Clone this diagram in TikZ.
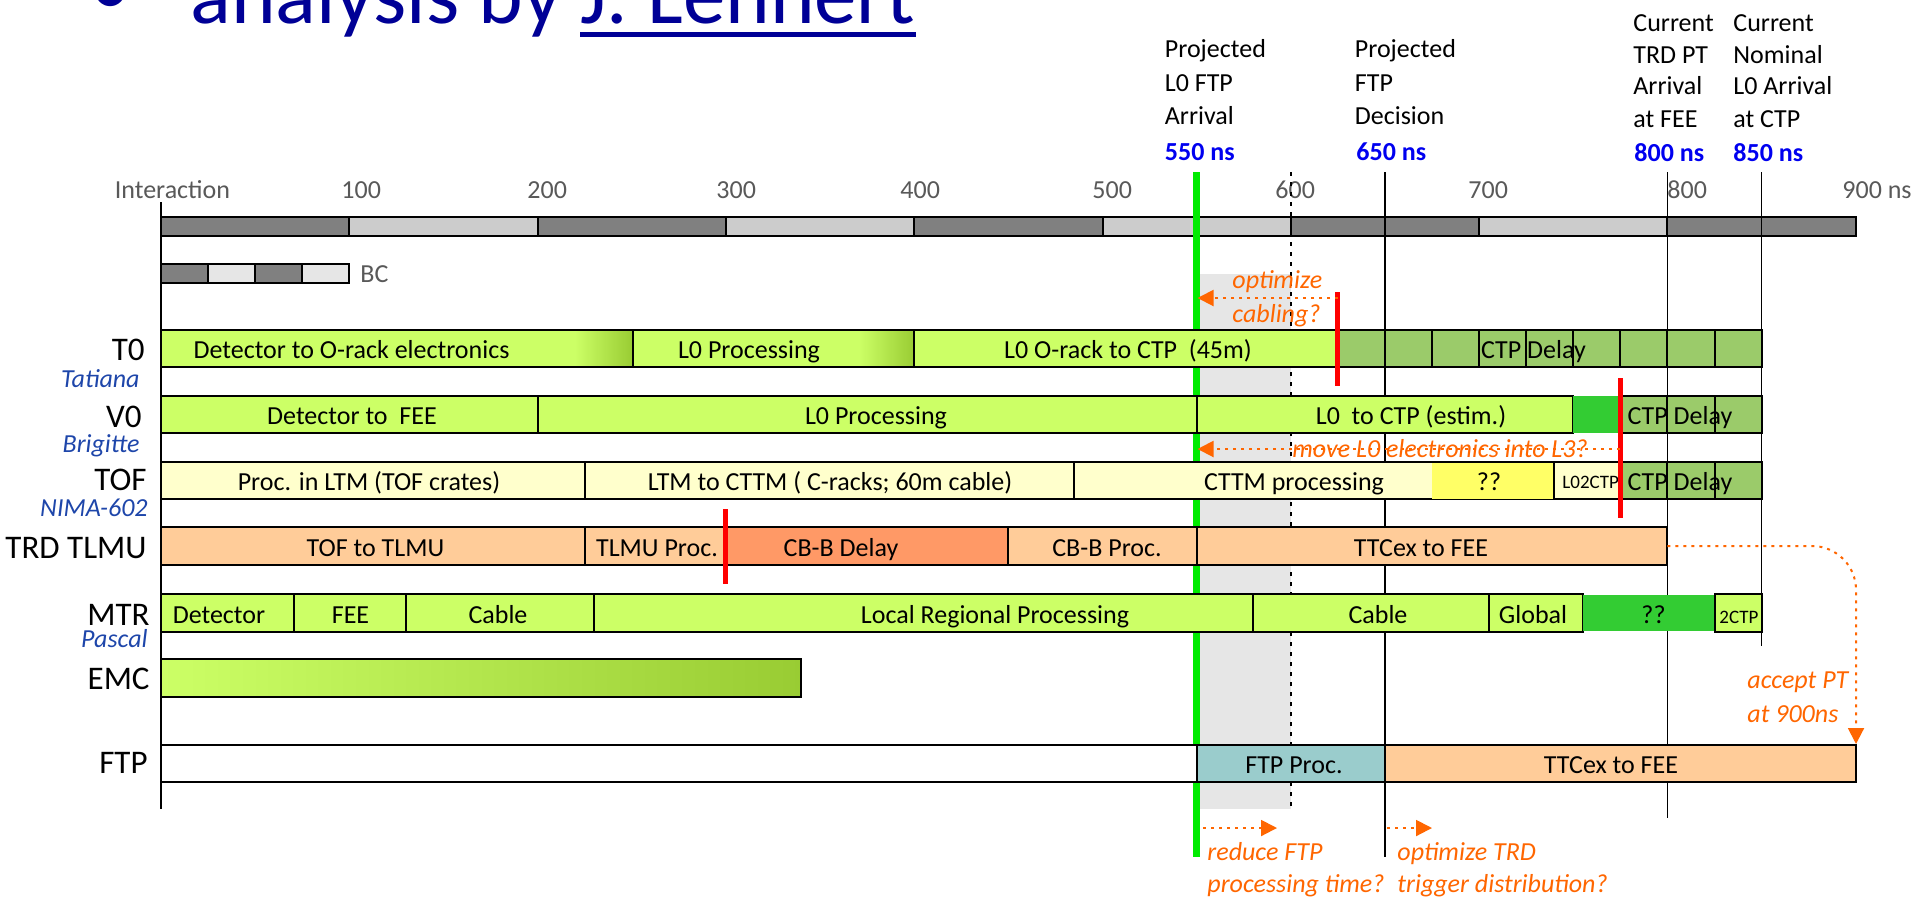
\documentclass[tikz,border=0pt]{standalone}
\usepackage{fontspec}
\setmainfont{Carlito}
\usetikzlibrary{arrows.meta}
\definecolor{lgreen}{HTML}{CCFF66}
\definecolor{dgreen}{HTML}{99CC33}
\definecolor{ctpgreen}{HTML}{9BCB6A}
\definecolor{bgreen}{HTML}{33CC33}
\definecolor{lyellow}{HTML}{FFFFCC}
\definecolor{qyellow}{HTML}{FFFF66}
\definecolor{peach}{HTML}{FFCC99}
\definecolor{dpeach}{HTML}{FF9966}
\definecolor{tealbox}{HTML}{9ACCCC}
\definecolor{gdark}{HTML}{808080}
\definecolor{glight}{HTML}{CCCCCC}
\definecolor{gbc}{HTML}{E6E6E6}
\definecolor{shadegray}{HTML}{E6E6E6}
\definecolor{axgray}{HTML}{595959}
\definecolor{nameblue}{RGB}{30,70,170}
\definecolor{nsblue}{RGB}{0,0,240}
\definecolor{titleblue}{RGB}{0,0,150}
\definecolor{noteorange}{RGB}{255,102,0}
\definecolor{vgreen}{RGB}{0,235,0}
\begin{document}
\begin{tikzpicture}[x=0.5pt,y=-0.5pt,
  seg/.style={draw=black, line width=1pt},
  segtxt/.style={font=\fontsize{13}{16}\selectfont, inner sep=0pt, anchor=base},
  tinytxt/.style={font=\fontsize{9.5}{11}\selectfont, inner sep=0pt, anchor=base west},
  rowlab/.style={font=\fontsize{16.5}{20}\selectfont, inner sep=0pt, anchor=base east},
  who/.style={font=\fontsize{13}{16}\selectfont\itshape, text=nameblue, inner sep=0pt, anchor=base east},
  axlab/.style={font=\fontsize{13}{16}\selectfont, text=axgray, inner sep=0pt, anchor=base west},
  hdr/.style={font=\fontsize{13}{16}\selectfont, inner sep=0pt, anchor=base west},
  hdrns/.style={hdr, font=\fontsize{13}{16}\selectfont\bfseries, text=nsblue},
  notetxt/.style={font=\fontsize{13}{16}\selectfont\itshape, text=noteorange, inner sep=0pt, anchor=base west},
  notearr/.style={draw=noteorange, line width=1pt, dash pattern=on 1.5pt off 2.5pt, -{Triangle[length=8pt,width=8pt]}},
  redmark/.style={draw=red, line width=2.5pt},
  vline/.style={draw=black, line width=0.8pt},
  titletxt/.style={font=\fontsize{42.5}{50}\selectfont, text=titleblue, inner sep=0pt, anchor=base west}]
\useasboundingbox (0,0) rectangle (1911,902);
\fill[white] (0,0) rectangle (1911,902);
\clip (0,0) rectangle (1911,902);

% title
\node[titletxt] (bul) at (89,15) {•};
\node[titletxt] (ttl) at (190,23) {analysis by};
\node[titletxt] (jl) at (580,23) {J. Lennert};
\draw[titleblue, line width=2.5pt] ([yshift=-5.75pt]jl.base west) -- ([yshift=-5.75pt]jl.base east);

% headers
\node[hdr] (h1a) at (1164.5,57) {Projected};
\node[hdr] (h1b) at (1164.5,91) {L0 FTP};
\node[hdr] (h1c) at (1164.5,124) {Arrival};
\node[hdrns] (h1d) at (1164.5,160) {550 ns};
\node[hdr] (h2a) at (1354.5,57) {Projected};
\node[hdr] (h2b) at (1354.5,91) {FTP};
\node[hdr] (h2c) at (1354.5,124) {Decision};
\node[hdrns] (h2d) at (1356,160) {650 ns};
\node[hdr] (h3a) at (1633,31) {Current};
\node[hdr] (h3b) at (1633,63) {TRD PT};
\node[hdr] (h3c) at (1633,94) {Arrival};
\node[hdr] (h3d) at (1633,127) {at FEE};
\node[hdrns] (h3e) at (1634,161) {800 ns};
\node[hdr] (h4a) at (1733,31) {Current};
\node[hdr] (h4b) at (1733,63) {Nominal};
\node[hdr] (h4c) at (1733,94) {L0 Arrival};
\node[hdr] (h4d) at (1733,127) {at CTP};
\node[hdrns] (h4e) at (1733,161) {850 ns};

% axis labels
\node[axlab] (ax0) at (114.5,198) {Interaction};
\node[axlab] (ax1) at (341,198) {100};
\node[axlab] (ax2) at (527,198) {200};
\node[axlab] (ax3) at (716,198) {300};
\node[axlab] (ax4) at (900,198) {400};
\node[axlab] (ax5) at (1092,198) {500};
\node[axlab] (ax6) at (1275,198) {600};
\node[axlab] (ax7) at (1468,198) {700};
\node[axlab] (ax8) at (1667,198) {800};
\node[axlab] (ax9) at (1842,198) {900 ns};

% top time bar
\foreach \a/\b/\c in {161/349.3/gdark, 349.3/537.6/glight, 537.6/725.9/gdark, 725.9/914.2/glight, 914.2/1102.5/gdark, 1102.5/1290.8/glight, 1290.8/1479.1/gdark, 1479.1/1667.4/glight, 1667.4/1855.7/gdark}
  \draw[seg, fill=\c] (\a,217) rectangle (\b,236);
% BC bar
\foreach \a/\b/\c in {161/208.1/gdark, 208.1/255.2/gbc, 255.2/302.2/gdark, 302.2/349.3/gbc}
  \draw[seg, fill=\c] (\a,264) rectangle (\b,283);
\node[axlab] (bc) at (360,282) {BC};

% shaded window and vertical markers
\fill[shadegray] (1196.7,274) rectangle (1290.8,809);
\draw[vline, line width=0.6pt] (161,202) -- (161,809);
\draw[vline] (1385,172) -- (1385,857);
\draw[vline] (1667.4,172) -- (1667.4,818);
\draw[vline] (1761.6,172) -- (1761.6,646);
\draw[black, line width=0.8pt, dash pattern=on 2pt off 3pt] (1290.8,172) -- (1290.8,809);
\draw[vgreen, line width=3.3pt] (1196.7,172) -- (1196.7,857);

% T0 row
\fill[lgreen] (161,330) rectangle (632.5,367);
\shade[left color=lgreen, right color=dgreen] (575,331) rectangle (632.5,366);
\draw[seg] (161,330) rectangle (632.5,367);
\fill[lgreen] (632.5,330) rectangle (914.2,367);
\shade[left color=lgreen, right color=dgreen] (859,331) rectangle (914.2,366);
\draw[seg] (632.5,330) rectangle (914.2,367);
\draw[seg, fill=lgreen] (914.2,330) rectangle (1337.9,367);
\foreach \a/\b in {1337.9/1385, 1385/1432, 1432/1479.1, 1479.1/1526.2, 1526.2/1573.3, 1573.3/1620.3, 1620.3/1667.4, 1667.4/1714.5, 1714.5/1761.6}
  \draw[seg, fill=ctpgreen] (\a,330) rectangle (\b,367);
\node[segtxt] (t0a) at (351.5,358.5) {Detector to O-rack electronics};
\node[segtxt] (t0b) at (749,358.5) {L0 Processing};
\node[segtxt] (t0c) at (1128,358.5) {L0 O-rack to CTP~~(45m)};
\node[segtxt] (t0d) at (1533.5,358.5) {CTP Delay};

% V0 row
\draw[seg, fill=lgreen] (161,396) rectangle (537.6,433);
\draw[seg, fill=lgreen] (537.6,396) rectangle (1196.7,433);
\draw[seg, fill=lgreen] (1196.7,396) rectangle (1573.3,433);
\fill[bgreen] (1573.3,396) rectangle (1620.3,433);
\foreach \a/\b in {1620.3/1667.4, 1667.4/1714.5, 1714.5/1761.6}
  \draw[seg, fill=ctpgreen] (\a,396) rectangle (\b,433);
\node[segtxt] (v0a) at (352,424.5) {Detector to~~FEE};
\node[segtxt] (v0b) at (876,424.5) {L0 Processing};
\node[segtxt] (v0c) at (1411,424.5) {L0~~to CTP (estim.)};
\node[segtxt] (v0d) at (1680,424.5) {CTP Delay};

% TOF row
\draw[seg, fill=lyellow] (161,462) rectangle (584.7,499);
\draw[seg, fill=lyellow] (584.7,462) rectangle (1074.3,499);
\draw[seg, fill=lyellow] (1074.3,462) rectangle (1554.4,499);
\fill[qyellow] (1432,463) rectangle (1554.4,498.5);
\draw[seg, fill=lyellow] (1554.4,462) rectangle (1620.3,499);
\node[segtxt] (tfa) at (369,490.5) {Proc. in LTM (TOF crates)};
\node[segtxt] (tfb) at (830,490.5) {LTM to CTTM ( C-racks; 60m cable)};
\node[segtxt] (tfc) at (1294,490.5) {CTTM processing};
\node[segtxt] (tfd) at (1489,490.5) {??};
\node[tinytxt] (tfe) at (1562,488) {L02CTP};
\foreach \a/\b in {1620.3/1667.4, 1667.4/1714.5, 1714.5/1761.6}
  \draw[seg, fill=ctpgreen] (\a,462) rectangle (\b,499);
\node[segtxt] (tff) at (1680,490.5) {CTP Delay};

% TRD TLMU row
\draw[seg, fill=peach] (161,527) rectangle (584.7,565);
\draw[seg, fill=peach] (584.7,527) rectangle (725.9,565);
\draw[seg, fill=dpeach] (725.9,527) rectangle (1008.4,565);
\draw[seg, fill=peach] (1008.4,527) rectangle (1196.7,565);
\draw[seg, fill=peach] (1196.7,527) rectangle (1667.4,565);
\node[segtxt] (tra) at (375.5,556) {TOF to TLMU};
\node[segtxt] (trb) at (657,556) {TLMU Proc.};
\node[segtxt] (trc) at (841,556) {CB-B Delay};
\node[segtxt] (trd) at (1107,556) {CB-B Proc.};
\node[segtxt] (tre) at (1421,556) {TTCex to FEE};

% MTR row
\draw[seg, fill=lgreen] (161,594) rectangle (294,632);
\draw[seg, fill=lgreen] (294,594) rectangle (405.8,632);
\draw[seg, fill=lgreen] (405.8,594) rectangle (594.1,632);
\draw[seg, fill=lgreen] (594.1,594) rectangle (1253.1,632);
\draw[seg, fill=lgreen] (1253.1,594) rectangle (1488.5,632);
\draw[seg, fill=lgreen] (1488.5,594) rectangle (1582.7,632);
\fill[bgreen] (1582.7,595) rectangle (1714.5,631);
\draw[seg, fill=lgreen] (1714.5,594) rectangle (1761.6,632);
\node[segtxt] (mta) at (219,623) {Detector};
\node[segtxt] (mtb) at (350.5,623) {FEE};
\node[segtxt] (mtc) at (498,623) {Cable};
\node[segtxt] (mtd) at (995,623) {Local Regional Processing};
\node[segtxt] (mte) at (1378,623) {Cable};
\node[segtxt] (mtf) at (1533,623) {Global};
\node[segtxt] (mtg) at (1653.5,623) {??};
\node[tinytxt] (mth) at (1719,623) {2CTP};

% EMC row
\shade[left color=lgreen, right color=dgreen] (161,659) rectangle (801.2,697);
\draw[seg] (161,659) rectangle (801.2,697);

% FTP row
\draw[seg, fill=white] (161,745) rectangle (1196.7,782);
\draw[seg, fill=tealbox] (1196.7,745) rectangle (1385,782);
\draw[seg, fill=peach] (1385,745) rectangle (1855.7,782);
\node[segtxt] (fta) at (1294,773.5) {FTP Proc.};
\node[segtxt] (ftb) at (1611,773.5) {TTCex to FEE};

% row labels
\node[rowlab] (lt0) at (145,360) {T0};
\node[rowlab] (lv0) at (142,427) {V0};
\node[rowlab] (ltf) at (147,490) {TOF};
\node[rowlab] (ltr) at (147,558) {TRD TLMU};
\node[rowlab] (lmt) at (150,625) {MTR};
\node[rowlab] (lem) at (150,689) {EMC};
\node[rowlab] (lft) at (148,773) {FTP};
\node[who] (wt0) at (140,387) {Tatiana};
\node[who] (wv0) at (140,452) {Brigitte};
\node[who] (wtf) at (148,516) {NIMA-602};
\node[who] (wmt) at (148,647) {Pascal};

% red markers
\draw[redmark] (1337.9,292) -- (1337.9,386);
\draw[redmark] (1620.3,378) -- (1620.3,518);
\draw[redmark] (725.9,509) -- (725.9,584);

% annotations
\coordinate (c1s) at (1338,298);
\coordinate (c1e) at (1197.5,298);
\draw[notearr] (c1s) -- (c1e);
\node[notetxt] (n1a) at (1232,288) {optimize};
\node[notetxt] (n1b) at (1232,322) {cabling?};

\coordinate (c2s) at (1620,449);
\coordinate (c2e) at (1197.5,449);
\node[notetxt] (n2) at (1292,457) {move L0 electronics into L3?};
\draw[notearr] (c2s) -- (c2e);

\coordinate (c3s) at (1667.4,546);
\coordinate (c3e) at (1856,744);
\draw[notearr, rounded corners=22pt] (c3s) -| (c3e);
\node[notetxt] (n3a) at (1747,688) {accept PT};
\node[notetxt] (n3b) at (1747,722) {at 900ns};

\coordinate (c4s) at (1203,828);
\coordinate (c4e) at (1277,828);
\draw[notearr] (c4s) -- (c4e);
\node[notetxt] (n4a) at (1207,860) {reduce FTP};
\node[notetxt] (n4b) at (1207,892) {processing time?};

\coordinate (c5s) at (1387,828);
\coordinate (c5e) at (1432,828);
\draw[notearr] (c5s) -- (c5e);
\node[notetxt] (n5a) at (1397,860) {optimize TRD};
\node[notetxt] (n5b) at (1397,892) {trigger distribution?};
\end{tikzpicture}
\end{document}
